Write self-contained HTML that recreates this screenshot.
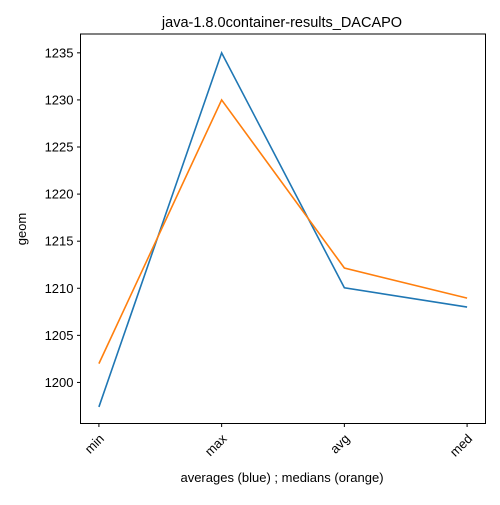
<!DOCTYPE html>
<html><head><meta charset="utf-8"><style>
body{margin:0;background:#fff;}
svg text{font-family:"Liberation Sans","DejaVu Sans",sans-serif;fill:#000;}
</style></head><body>
<svg id="chart" width="500" height="500" xmlns="http://www.w3.org/2000/svg">
<rect width="500" height="500" fill="#fff"/>
<text x="282" y="27" font-size="14.5" text-anchor="middle">java-1.8.0container-results_DACAPO</text>
<g id="yticks"></g>
<g id="xticks"></g>
<g id="lines"></g>
<rect x="80.5" y="34" width="405" height="389.5" fill="none" stroke="#000" stroke-width="1"/>
<text x="26" y="229" font-size="13" text-anchor="middle" transform="rotate(-90 26 229)">geom</text>
<text x="282" y="482" font-size="13" text-anchor="middle">averages (blue) ; medians (orange)</text>
</svg>
<script>
const categories = ["min","max","avg","med"];
const averages = [1197.4, 1235.0, 1210.05, 1208.0];
const medians = [1202.0, 1230.0, 1212.15, 1208.95];
const yTicks = [1200,1205,1210,1215,1220,1225,1230,1235];
const NS="http://www.w3.org/2000/svg";
const X0=80.5, X1=485.5, Y0=423.5, Y1=34;
const xMin=-0.15, xMax=3.15, yMin=1195.64, yMax=1237.0;
function xs(i){return X0+(i-xMin)/(xMax-xMin)*(X1-X0);}
function ys(v){return Y0-(v-yMin)/(yMax-yMin)*(Y0-Y1);}
function mk(t,a,p){const e=document.createElementNS(NS,t);for(const k in a)e.setAttribute(k,a[k]);p.appendChild(e);return e;}
const yg=document.getElementById('yticks');
yTicks.forEach(v=>{
  const y=ys(v);
  const l=mk('line',{x1:X0-3.5,x2:X0,y1:y,y2:y,stroke:'#000'},yg);
  
  
  const t=mk('text',{x:X0-7,y:y+4.5,'font-size':13,'text-anchor':'end'},yg);
  t.textContent=v;
  
  
});
const xg=document.getElementById('xticks');
categories.forEach((c,i)=>{
  const x=xs(i);
  const l=mk('line',{x1:x,x2:x,y1:Y0,y2:Y0+3.5,stroke:'#000'},xg);
  
  
  const t=mk('text',{x:x+6,y:Y0+16,'font-size':13,'text-anchor':'end',transform:`rotate(-45 ${x+6} ${Y0+16})`},xg);
  t.textContent=c;
  
  
});
const lg=document.getElementById('lines');
function line(data,color,name){
  const p=mk('polyline',{points:data.map((v,i)=>xs(i)+','+ys(v)).join(' '),fill:'none',stroke:color,'stroke-width':1.6},lg);
  
  
}
line(averages,'#1f77b4','averages-line');
line(medians,'#ff7f0e','medians-line');
</script>
</body></html>
